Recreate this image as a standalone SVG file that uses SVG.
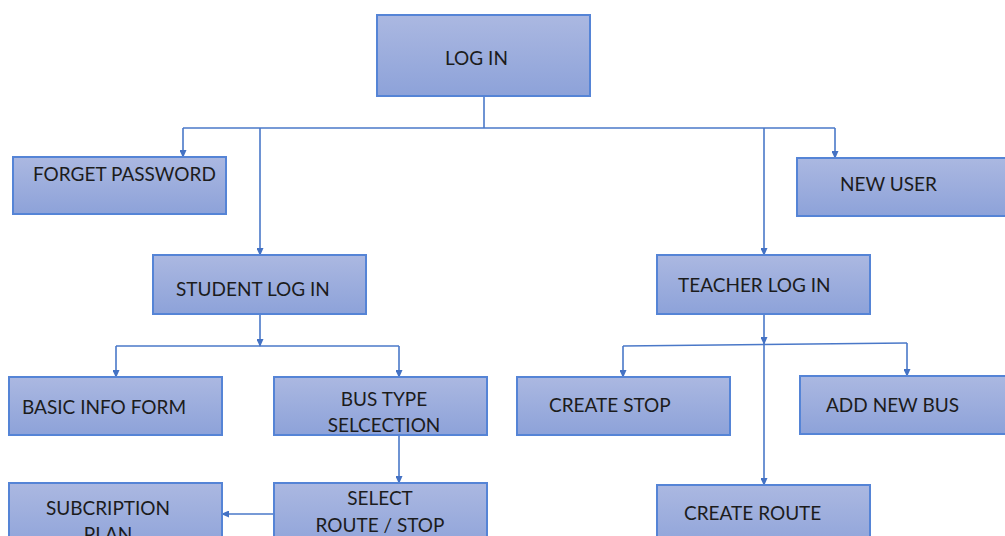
<svg xmlns="http://www.w3.org/2000/svg" width="1005" height="536" viewBox="0 0 1005 536">
<defs>
<linearGradient id="g" x1="0" y1="0" x2="0" y2="1">
<stop offset="0" stop-color="#abb8e1"/>
<stop offset="1" stop-color="#8da2d9"/>
</linearGradient>
<marker id="a" markerWidth="8" markerHeight="7" refX="7" refY="3.5" orient="auto" markerUnits="userSpaceOnUse">
<path d="M0,0 L8,3.5 L0,7 Z" fill="#4472c4"/>
</marker>
</defs>
<style>
.box{fill:url(#g);stroke:#5584d6;stroke-width:2}
.t{font-family:Lato,"Liberation Sans",sans-serif;font-size:19px;fill:#1c1c1c}
.c{text-anchor:middle}
.ln{fill:none;stroke:#4a78c8;stroke-width:1.6}
</style>
<rect width="1005" height="536" fill="#ffffff"/>
<g id="connectors">
<path class="ln" d="M484,96 V128"/>
<path class="ln" d="M183,128 H835"/>
<path class="ln" d="M183,128 V157" marker-end="url(#a)"/>
<path class="ln" d="M260,128 V255" marker-end="url(#a)"/>
<path class="ln" d="M764,128 V255" marker-end="url(#a)"/>
<path class="ln" d="M835,128 V158" marker-end="url(#a)"/>
<path class="ln" d="M260,314 V346" marker-end="url(#a)"/>
<path class="ln" d="M116,346 H399"/>
<path class="ln" d="M116,346 V377" marker-end="url(#a)"/>
<path class="ln" d="M399,346 V377" marker-end="url(#a)"/>
<path class="ln" d="M399,435 V483" marker-end="url(#a)"/>
<path class="ln" d="M274,514 H222" marker-end="url(#a)"/>
<path class="ln" d="M764,314 V344" marker-end="url(#a)"/>
<path class="ln" d="M764,344 V485" marker-end="url(#a)"/>
<path class="ln" d="M623,346 L907,343"/>
<path class="ln" d="M623,346 V377" marker-end="url(#a)"/>
<path class="ln" d="M907,343 V376" marker-end="url(#a)"/>
</g>
<g id="login"><rect class="box" x="377" y="15" width="213" height="81"/><text class="t" x="445" y="65">LOG IN</text></g>
<g id="forget"><rect class="box" x="13" y="157" width="213" height="57"/><text class="t" x="33" y="181">FORGET PASSWORD</text></g>
<g id="newuser"><rect class="box" x="797" y="158" width="212" height="58"/><text class="t" x="840" y="191">NEW USER</text></g>
<g id="student"><rect class="box" x="153" y="255" width="213" height="59"/><text class="t" x="176" y="296">STUDENT LOG IN</text></g>
<g id="teacher"><rect class="box" x="657" y="255" width="213" height="59"/><text class="t" x="678" y="292">TEACHER LOG IN</text></g>
<g id="basic"><rect class="box" x="9" y="377" width="213" height="58"/><text class="t" x="22" y="414">BASIC INFO FORM</text></g>
<g id="bustype"><rect class="box" x="274" y="377" width="213" height="58"/><text class="t c" x="384" y="406">BUS TYPE</text><text class="t c" x="384" y="432">SELCECTION</text></g>
<g id="createstop"><rect class="box" x="517" y="377" width="213" height="58"/><text class="t" x="549" y="412">CREATE STOP</text></g>
<g id="addbus"><rect class="box" x="800" y="376" width="209" height="58"/><text class="t" x="826" y="412">ADD NEW BUS</text></g>
<g id="subscription"><rect class="box" x="9" y="483" width="213" height="70"/><text class="t c" x="108" y="515">SUBCRIPTION</text><text class="t c" x="108" y="541">PLAN</text></g>
<g id="selectroute"><rect class="box" x="274" y="483" width="213" height="70"/><text class="t c" x="380" y="505">SELECT</text><text class="t c" x="380" y="532">ROUTE / STOP</text></g>
<g id="createroute"><rect class="box" x="657" y="485" width="213" height="68"/><text class="t" x="684" y="520">CREATE ROUTE</text></g>
</svg>
